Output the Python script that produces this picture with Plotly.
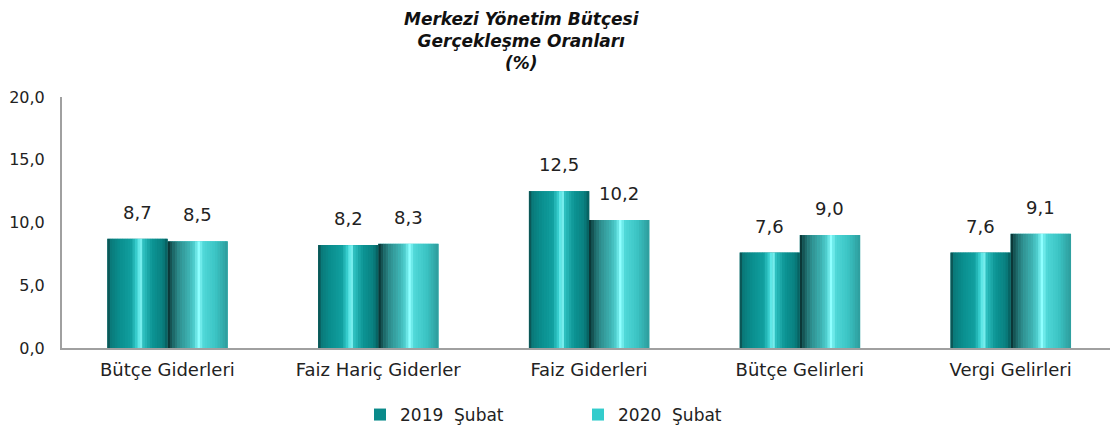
import plotly.graph_objects as go

categories = ["Bütçe Giderleri", "Faiz Hariç Giderler", "Faiz Giderleri", "Bütçe Gelirleri", "Vergi Gelirleri"]
series_2019 = [8.7, 8.2, 12.5, 7.6, 7.6]
series_2020 = [8.5, 8.3, 10.2, 9.0, 9.1]
series_names = ["2019  Şubat", "2020  Şubat"]
y_ticks = [0, 5, 10, 15, 20]
title_text = "<b><i>Merkezi Yönetim Bütçesi<br>Gerçekleşme Oranları<br>(%)</i></b>"

FONT = "DejaVu Sans"
# page body adds an 8px offset, so the figure is a bit smaller than the window
W, H = 1110, 429
L, R, T, B = 54, 2, 89, 89
plot_w = W - L - R
plot_h = H - T - B
cat_w_px = plot_w / len(categories)
BAR_FRAC = 0.285            # width of one bar, in category units
bar_w_px = cat_w_px * BAR_FRAC

legend_colors = ["#0a8a8a", "#33cccc"]
# horizontal shading of the cylinder-like bars (position across bar, colour)
shading = [
    [(0, "#0b4545"), (0.06, "#0a7a7a"), (0.2, "#0a8e8e"), (0.4, "#12a0a0"),
     (0.5, "#3fd8d8"), (0.55, "#8cfcfc"), (0.6, "#2fc0c0"), (0.75, "#0c9494"),
     (0.92, "#0a8080"), (1, "#065a5a")],
    [(0, "#062a2a"), (0.08, "#1a6060"), (0.2, "#2f9090"), (0.35, "#3db0b0"),
     (0.45, "#50d0d0"), (0.52, "#90ffff"), (0.6, "#50d8d8"), (0.8, "#3cc4c4"),
     (1, "#2e9c9c")],
]
N_STRIPES = 24


def interp(stops, t):
    for (p0, c0), (p1, c1) in zip(stops[:-1], stops[1:]):
        if p0 <= t <= p1:
            f = (t - p0) / (p1 - p0) if p1 > p0 else 0
            a = [int(c0[k:k + 2], 16) for k in (1, 3, 5)]
            b = [int(c1[k:k + 2], 16) for k in (1, 3, 5)]
            return "#" + "".join(f"{round(x + (y - x) * f):02x}" for x, y in zip(a, b))
    return stops[-1][1]


fig = go.Figure()
for i, (name, vals) in enumerate(zip(series_names, [series_2019, series_2020])):
    base_off = (i - 1) * BAR_FRAC
    # base bar (also used for the legend)
    fig.add_trace(go.Bar(
        x=categories, y=vals, name=name,
        width=BAR_FRAC, offset=base_off,
        marker=dict(color=legend_colors[i], line=dict(width=0)),
        hoverinfo="x+y",
    ))
    sw = BAR_FRAC / N_STRIPES
    for k in range(N_STRIPES):
        fig.add_trace(go.Bar(
            x=categories, y=vals, showlegend=False, hoverinfo="skip",
            width=sw * 1.15, offset=base_off + k * sw,
            marker=dict(color=interp(shading[i], (k + 0.5) / N_STRIPES), line=dict(width=0)),
        ))
    for c, v in zip(categories, vals):
        fig.add_annotation(
            x=c, y=v, xref="x", yref="y", text=f"{v:.1f}".replace(".", ","),
            showarrow=False, yanchor="bottom", xanchor="center",
            xshift=(i - 0.5) * bar_w_px, yshift=14,
            font=dict(size=18, family=FONT, color="#222"),
        )

fig.add_annotation(
    text=title_text, xref="paper", yref="paper",
    x=(514 - L) / plot_w, y=1 + (T + 1) / plot_h,
    xanchor="center", yanchor="top", showarrow=False, align="center",
    font=dict(size=17, family=FONT, color="#111"),
)

fig.update_layout(
    width=W, height=H,
    margin=dict(l=L, r=R, t=T, b=B, autoexpand=False),
    paper_bgcolor="white", plot_bgcolor="white",
    separators=",.",
    barmode="overlay",
    font=dict(family=FONT, size=16, color="#222"),
    showlegend=True,
    legend=dict(
        orientation="h", x=(570 - L) / plot_w, xanchor="center",
        y=-(407 - (H - B)) / plot_h, yanchor="middle",
        entrywidth=173, entrywidthmode="pixels",
        font=dict(size=17, family=FONT, color="#222"),
        itemwidth=30,
    ),
    xaxis=dict(
        showline=True, linecolor="#a0a0a0", linewidth=2,
        ticks="", showgrid=False, ticklabelstandoff=4,
        tickfont=dict(size=18, family=FONT, color="#222"),
    ),
    yaxis=dict(
        range=[0, 20], tickvals=y_ticks, tickformat=".1f",
        showline=True, linecolor="#a0a0a0", linewidth=2,
        showgrid=False, zeroline=False, ticks="",
        ticklabelstandoff=12,
        tickfont=dict(size=16, family=FONT, color="#222"),
    ),
)

fig.write_html("out.html")
